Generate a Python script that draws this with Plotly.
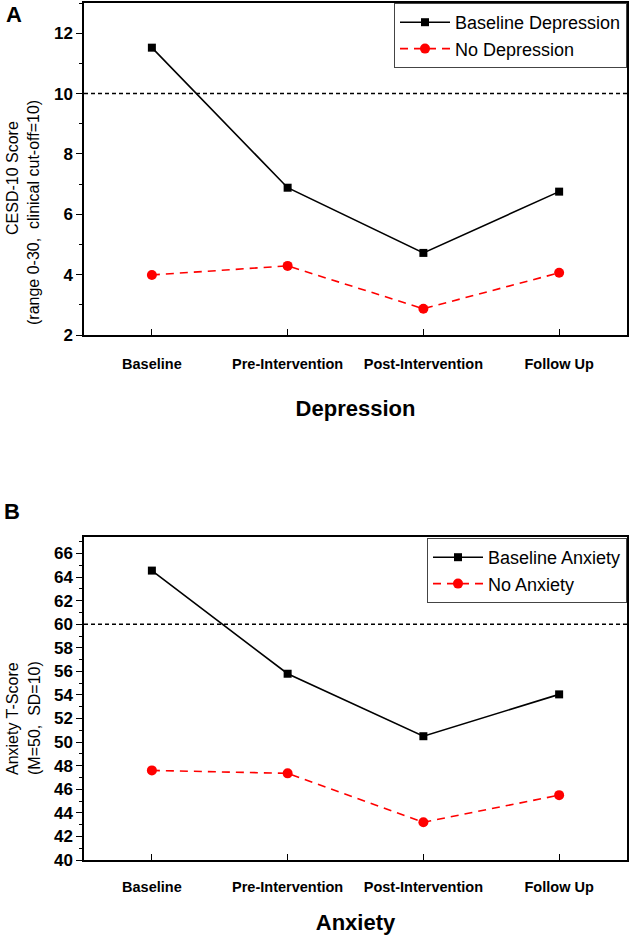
import plotly.graph_objects as go

# ---- data ----
timepoints = ["Baseline", "Pre-Intervention", "Post-Intervention", "Follow Up"]
dep_baseline = [11.52, 6.88, 4.72, 6.75]
dep_none = [3.99, 4.29, 2.87, 4.06]
anx_baseline = [64.55, 55.8, 50.5, 54.05]
anx_none = [47.6, 47.35, 43.2, 45.5]
cutoff_dep = 10
cutoff_anx = 60
yticks_dep = [2, 4, 6, 8, 10, 12]
yticks_anx = list(range(40, 67, 2))

FONT = "Arial, Liberation Sans, Helvetica, sans-serif"
W, H = 630, 935
ML, MR = 84, 3
PW = W - ML - MR

def dom(top_px, bot_px):
    return [1 - bot_px / H, 1 - top_px / H]

def px_x(px):
    return (px - ML) / PW

def px_y(py):
    return 1 - py / H

fig = go.Figure()

def add_pair(xa, ya, legend, name1, y1, name2, y2):
    fig.add_trace(go.Scatter(
        x=timepoints, y=y1, name=name1, mode="lines+markers",
        line=dict(color="black", width=1.6),
        marker=dict(symbol="square", size=8, color="black"),
        xaxis=xa, yaxis=ya, legend=legend))
    fig.add_trace(go.Scatter(
        x=timepoints, y=y2, name=name2, mode="lines+markers",
        line=dict(color="#ff0000", width=1.6, dash="8px,6px"),
        marker=dict(symbol="circle", size=10, color="#ff0000"),
        xaxis=xa, yaxis=ya, legend=legend))

add_pair("x", "y", "legend", "Baseline Depression", dep_baseline, "No Depression", dep_none)
add_pair("x2", "y2", "legend2", "Baseline Anxiety", anx_baseline, "No Anxiety", anx_none)

xcommon = dict(
    type="category", categoryorder="array", categoryarray=timepoints,
    range=[-0.5, 3.5], showline=True, linecolor="black", linewidth=1.5,
    mirror=True, ticks="inside", ticklen=6, tickwidth=1.2, tickcolor="black",
    tickfont=dict(family=FONT, size=14.5, color="black", weight="bold"),
    showgrid=False, zeroline=False, automargin=False,
)
ycommon = dict(
    showline=True, linecolor="black", linewidth=1.5, mirror=True,
    ticks="outside", ticklen=6, tickwidth=1.2, tickcolor="black",
    tickfont=dict(family=FONT, size=17, color="black", weight="bold"),
    showgrid=False, zeroline=False, automargin=False,
    minor=dict(ticks="outside", ticklen=3, tickwidth=1, tickcolor="black", dtick=1, showgrid=False),
)

legend_common = dict(
    x=1, xanchor="right", yanchor="top",
    bgcolor="white", bordercolor="#444", borderwidth=1,
    font=dict(family=FONT, size=18, color="black"),
    tracegroupgap=0, itemwidth=50,
)

fig.update_layout(
    width=W, height=H,
    margin=dict(l=ML, r=MR, t=0, b=0, autoexpand=False),
    plot_bgcolor="white", paper_bgcolor="white",
    font=dict(family=FONT, color="black"),
    xaxis=dict(**xcommon, domain=[0, 1], anchor="y", ticklabelstandoff=15,
               title=dict(text="<b>Depression</b>", font=dict(family=FONT, size=22, color="black"), standoff=29)),
    yaxis=dict(**ycommon, domain=dom(3, 335), anchor="x", range=[2, 13],
               tickvals=yticks_dep),
    xaxis2=dict(**xcommon, domain=[0, 1], anchor="y2", ticklabelstandoff=13,
                title=dict(text="<b>Anxiety</b>", font=dict(family=FONT, size=22, color="black"), standoff=27)),
    yaxis2=dict(**ycommon, domain=dom(537, 860), anchor="x2", range=[40, 67.4],
                tickvals=yticks_anx),
    legend=dict(**legend_common, y=px_y(3)),
    legend2=dict(**legend_common, y=px_y(538)),
    showlegend=True,
)

# cut-off lines
for yref, xref, val in [("y", "x domain", cutoff_dep), ("y2", "x2 domain", cutoff_anx)]:
    fig.add_shape(type="line", xref=xref, yref=yref, x0=0, x1=1, y0=val, y1=val,
                  line=dict(color="black", width=1.5, dash="4px,3px"), layer="below")

# y-axis titles and panel labels
ann = [
    dict(text="CESD-10 Score", x=12, y=178),
    dict(text="(range 0-30,  clinical cut-off=10)", x=34, y=213),
    dict(text="Anxiety T-Score", x=12, y=719),
    dict(text="(M=50,  SD=10)", x=34, y=718),
]
for a in ann:
    fig.add_annotation(text=a["text"], x=px_x(a["x"]), y=px_y(a["y"]), xref="paper", yref="paper",
                       xanchor="center", yanchor="middle", textangle=-90, showarrow=False,
                       font=dict(family=FONT, size=16, color="black"))
for lab, px, py in [("A", 14, 15), ("B", 12, 511)]:
    fig.add_annotation(text="<b>%s</b>" % lab, x=px_x(px), y=px_y(py), xref="paper", yref="paper",
                       xanchor="center", yanchor="middle", showarrow=False,
                       font=dict(family=FONT, size=22, color="black"))

fig.write_html("out.html", config={"displayModeBar": False},
               post_script="document.body.style.margin='0';document.body.style.padding='0';document.body.style.overflow='hidden';")
